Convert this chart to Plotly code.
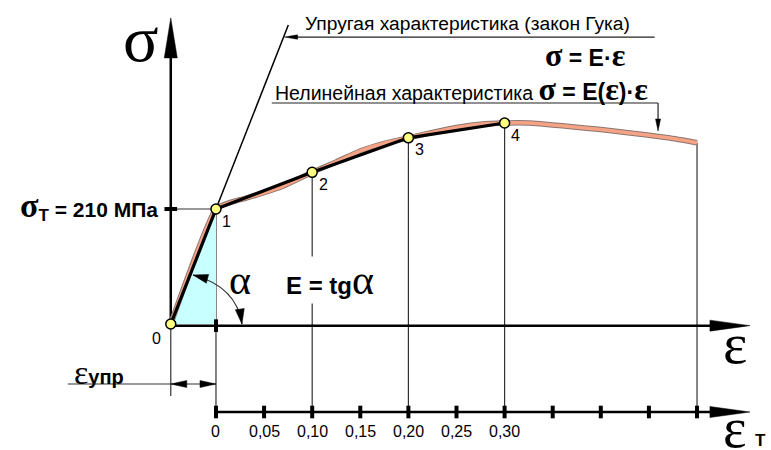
import plotly.graph_objects as go
import math

W, H = 771, 450

# ---------------- data ----------------
pt_labels = ["0", "1", "2", "3", "4"]
pt_eps = [-0.047, 0.0, 0.10, 0.20, 0.30]          # strain (ε_T scale)
pt_sig = [0, 210, 277, 340, 367]                  # stress, MPa

curve_eps = [-0.047, 0.0, 0.01, 0.025, 0.045, 0.07, 0.10, 0.125, 0.15, 0.175,
             0.20, 0.225, 0.25, 0.275, 0.30, 0.325, 0.36, 0.40, 0.435, 0.47, 0.50]
curve_sig = [0, 210, 219, 227, 237, 252, 277, 296, 316, 330,
             340, 350, 359, 365, 367, 367, 362, 355, 348, 340, 331]

drop_eps = [0.0, 0.10, 0.20, 0.30, 0.50]
drop_sig = [210, 277, 340, 367, 331]

tick_vals = [0.0, 0.05, 0.10, 0.15, 0.20, 0.25, 0.30, 0.35, 0.40, 0.45, 0.50]
tick_text = ["0", "0,05", "0,10", "0,15", "0,20", "0,25", "0,30", "", "", "", ""]

sigma_T = 210

# ---------------- frame ----------------
X0, X1 = -0.2245, 0.5769
Y0, Y1 = -230.1, 591.7
SX = W / (X1 - X0)
SY = H / (Y1 - Y0)

EPS_Y = -3            # ε axis level
EPST_Y = -160.7       # ε_T axis level
AX_END = 0.555
SIG_TOP = 559
SIG_BOT = -131.5
x_org = pt_eps[0]

SANS = "Liberation Sans, Arial, sans-serif"
SERIF = "Liberation Serif, Times New Roman, serif"


def ser(ch, size):
    return f"<span style='font-family:Liberation Serif;font-size:{size}px'>{ch}</span>"


fig = go.Figure()
shapes = []
ann = []


def line(x0, y0, x1, y1, w=1, c="#222"):
    shapes.append(dict(type="line", xref="x", yref="y", x0=x0, y0=y0, x1=x1, y1=y1,
                       line=dict(color=c, width=w), layer="below"))


def head(tx, ty, ux, uy, length, half):
    n = math.hypot(ux, uy)
    ux, uy = ux / n, uy / n
    bx, by = -ux * length, -uy * length
    px, py = -uy * half, ux * half
    p1 = (tx + (bx + px) / SX, ty + (by + py) / SY)
    p2 = (tx + (bx - px) / SX, ty + (by - py) / SY)
    shapes.append(dict(type="path", xref="x", yref="y",
                       path=f"M {tx},{ty} L {p1[0]},{p1[1]} L {p2[0]},{p2[1]} Z",
                       fillcolor="black", line=dict(color="black", width=0.5)))


# cyan triangle
fig.add_trace(go.Scatter(x=[pt_eps[0], pt_eps[1], pt_eps[1], pt_eps[0]],
                         y=[pt_sig[0], pt_sig[1], pt_sig[0], pt_sig[0]],
                         fill="toself", fillcolor="#c8ffff", mode="none",
                         hoverinfo="skip", showlegend=False))

# drop lines
for e, s in zip(drop_eps, drop_sig):
    line(e, s, e, EPST_Y, 1.2, "#333")
# σ_T horizontal
line(x_org, sigma_T, 0.0, sigma_T, 1.2, "#333")
# σ axis
line(x_org, 0, x_org, SIG_TOP - 30 / SY, 2.5, "black")
line(x_org, 0, x_org, SIG_BOT, 1.2, "#333")
head(x_org, SIG_TOP, 0, 1, 40, 6.5)
# ε axis
line(x_org, EPS_Y, AX_END - 30 / SX, EPS_Y, 2.5, "black")
head(AX_END, EPS_Y, 1, 0, 40, 5.5)
# ε_T axis
line(0.0, EPST_Y, AX_END - 30 / SX, EPST_Y, 2.5, "black")
head(AX_END, EPST_Y, 1, 0, 40, 5.5)

# Hooke line (through 0 and 1)
k = (pt_eps[1] - pt_eps[0]) / (pt_sig[1] - pt_sig[0])
hook_top = 546
line(x_org, 0, x_org + k * hook_top, hook_top, 1.5, "black")

# leader to Hooke line
lead_y = 524
lead_tip = x_org + k * lead_y + 0.001
line(lead_tip + 10 / SX, lead_y, 0.456, lead_y, 1.2, "#222")
head(lead_tip, lead_y, -1, 0, 13, 2.2)

# leader to nonlinear curve
nl_y = 403.6
nl_x = 0.4595
line(0.058, nl_y, nl_x, nl_y, 1.2, "#222")
line(nl_x, nl_y, nl_x, 352.5 + 8 / SY, 1.2, "#222")
head(nl_x, 352.5, 0, -1, 12, 2.5)

# ε_упр dimension line
dim_y = -109.6
line(-0.154, dim_y, 0.0, dim_y, 1.2, "#333")
head(x_org, dim_y, -1, 0, 16, 3.5)
head(0.0, dim_y, 1, 0, 16, 3.5)

# angle arc
P0 = (-0.0239, 89.5)
P2 = (0.0270, 0.0)
Q = (0.0213, 68.5)
shapes.append(dict(type="path", xref="x", yref="y",
                   path=f"M {P0[0]},{P0[1]} Q {Q[0]},{Q[1]} {P2[0]},{P2[1]}",
                   line=dict(color="#333", width=1.2)))
head(P0[0], P0[1], (P0[0] - Q[0]) * SX, (P0[1] - Q[1]) * SY, 15, 4.5)
head(P2[0], P2[1], (P2[0] - Q[0]) * SX, (P2[1] - Q[1]) * SY, 15, 4.5)

# nonlinear curve (salmon band with dark edges)
fig.add_trace(go.Scatter(x=curve_eps, y=curve_sig, mode="lines",
                         line=dict(color="#8a7670", width=5.5, shape="spline", smoothing=0.6),
                         hoverinfo="skip", showlegend=False))
fig.add_trace(go.Scatter(x=curve_eps, y=curve_sig, mode="lines",
                         line=dict(color="#f6a385", width=3.5, shape="spline", smoothing=0.6),
                         hoverinfo="skip", showlegend=False))
# piecewise linear approximation
fig.add_trace(go.Scatter(x=pt_eps, y=pt_sig, mode="lines",
                         line=dict(color="black", width=3.2),
                         hoverinfo="skip", showlegend=False))

# tick dashes on ε_T axis
fig.add_trace(go.Scatter(x=tick_vals, y=[EPST_Y] * len(tick_vals), mode="markers",
                         marker=dict(symbol="line-ns", size=9, line=dict(width=4, color="black")),
                         hoverinfo="skip", showlegend=False))
# dashes on σ axis and ε axis
fig.add_trace(go.Scatter(x=[x_org], y=[sigma_T], mode="markers",
                         marker=dict(symbol="line-ew", size=9, line=dict(width=4, color="black")),
                         hoverinfo="skip", showlegend=False))
fig.add_trace(go.Scatter(x=[0.0], y=[EPS_Y], mode="markers",
                         marker=dict(symbol="line-ns", size=9, line=dict(width=4, color="black")),
                         hoverinfo="skip", showlegend=False))

# yellow points
fig.add_trace(go.Scatter(x=pt_eps, y=pt_sig, mode="markers",
                         marker=dict(size=10, color="#ffff80", line=dict(color="black", width=1.5)),
                         hoverinfo="skip", showlegend=False))

# point labels
for i, (lab, e, s) in enumerate(zip(pt_labels, pt_eps, pt_sig)):
    if i == 0:
        ann.append(dict(x=e, y=s, text=lab, xshift=-14, yshift=-14, showarrow=False,
                        font=dict(family=SANS, size=16, color="black")))
    else:
        ann.append(dict(x=e, y=s, text=lab, xshift=11, yshift=-12, showarrow=False,
                        font=dict(family=SANS, size=16, color="black")))

# tick labels
for v, t in zip(tick_vals, tick_text):
    if t:
        ann.append(dict(x=v, y=EPST_Y, text=t, yshift=-19, showarrow=False,
                        font=dict(family=SANS, size=16, color="black")))

# text labels
ann.append(dict(x=0.0904, y=548, text="Упругая характеристика (закон Гука)",
                xanchor="left", showarrow=False, font=dict(family=SANS, size=19.2, color="black")))
ann.append(dict(x=0.4283, y=491, text="<b>" + ser("σ", 32) + " = E·" + ser("ε", 32) + "</b>",
                xanchor="right", showarrow=False, font=dict(family=SANS, size=23, color="black")))
ann.append(dict(x=0.0593, y=429,
                text="Нелинейная характеристика <b><span style='font-size:23px'>" + ser("σ", 32)
                     + " = E(" + ser("ε", 32) + ")·" + ser("ε", 32) + "</span></b>",
                xanchor="left", showarrow=False, font=dict(family=SANS, size=19.5, color="black")))
ann.append(dict(x=-0.0779, y=522, text="σ", showarrow=False,
                font=dict(family=SERIF, size=66, color="black")))
ann.append(dict(x=-0.0582, y=215,
                text="<b>" + ser("σ", 34) + "<sub><span style='font-size:17px'>Т</span></sub> = 210 МПа</b>",
                xanchor="right", showarrow=False, font=dict(family=SANS, size=21, color="black")))
ann.append(dict(x=0.025, y=80, text="α", showarrow=False,
                font=dict(family=SERIF, size=42, color="black")))
ann.append(dict(x=0.1185, y=80,
                text="<b>E = tg</b>" + ser("α", 42),
                showarrow=False, bgcolor="white", borderpad=0,
                font=dict(family=SANS, size=24, color="black")))
ann.append(dict(x=0.5395, y=-35, text="ε", showarrow=False,
                font=dict(family=SERIF, size=58, color="black")))
ann.append(dict(x=0.5395, y=EPST_Y - 30, text="ε", showarrow=False,
                font=dict(family=SERIF, size=56, color="black")))
ann.append(dict(x=0.5395, y=EPST_Y - 52, xshift=25, text="<b>Т</b>", showarrow=False,
                font=dict(family=SANS, size=17, color="black")))
ann.append(dict(x=-0.1497, y=-87.7,
                text=ser("ε", 34) + "<b>упр</b>",
                xanchor="left", showarrow=False, font=dict(family=SANS, size=20, color="black")))

fig.update_layout(
    width=W, height=H, margin=dict(l=0, r=0, t=0, b=0),
    paper_bgcolor="white", plot_bgcolor="white",
    xaxis=dict(range=[X0, X1], visible=False, fixedrange=True),
    yaxis=dict(range=[Y0, Y1], visible=False, fixedrange=True),
    shapes=shapes, annotations=ann, showlegend=False,
)
fig.write_html("out.html", config={"displayModeBar": False},
               post_script="document.body.style.margin='0px';")
